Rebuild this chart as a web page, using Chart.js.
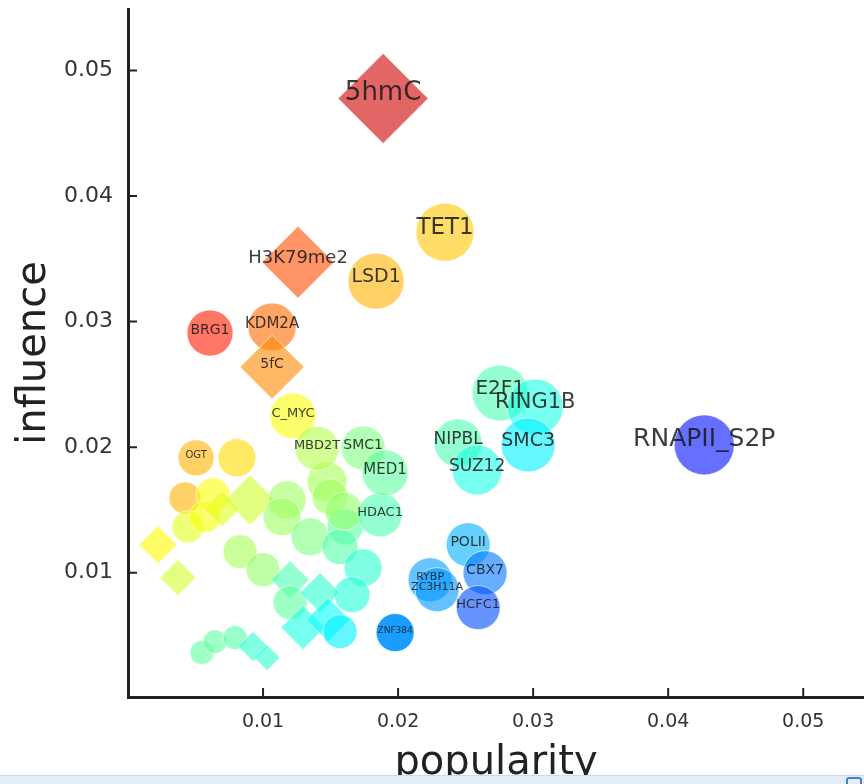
<!DOCTYPE html>
<html>
<head>
<meta charset="utf-8">
<script src="https://cdn.jsdelivr.net/npm/chart.js@4.4.1/dist/chart.umd.min.js"></script>
<style>
    html, body { margin: 0; padding: 0; background: #fff; }
    #wrap { position: relative; width: 864px; height: 784px; overflow: hidden; }
    /* bubble charts reserve the largest radius on every side, so the canvas
       is made a bit larger and shifted to keep the plot at the page edges */
    #scatter { position: absolute; left: 0; top: -37px; }
    #statusBar { position: absolute; left: 0; top: 775px; width: 864px; height: 9px;
                 background: #e4eef9; border-top: 1px solid #c9d9ee; }
    #statusBar span { position: absolute; left: 846px; top: 1px; width: 12px; height: 10px;
                      border: 2px solid #4a7fd0; border-radius: 3px; }
</style>
</head>
<body>
<div id="wrap">
    <canvas id="scatter" width="910" height="821"></canvas>
    <div id="statusBar"><span></span></div>
</div>
<script>
// Factors: name ('' for unlabelled ones), popularity, influence
const names = [
    '', '', '', '', '', '', '', '', '', '',
    '', '', '', '', '', '', '', '', '', '',
    '', '', '', '', '', '', '', '', '', '',
    '', '',
    'OGT', 'C_MYC', 'MBD2T', 'SMC1', 'HDAC1', 'MED1', 'BRG1', 'KDM2A', '5fC',
    'LSD1', 'H3K79me2', 'TET1', '5hmC',
    'NIPBL', 'SUZ12', 'E2F1', 'RING1B', 'SMC3', 'RNAPII_S2P',
    'POLII', 'RYBP', 'ZC3H11A', 'CBX7', 'HCFC1', 'ZNF384'
];
const popularity = [
    0.00807, 0.00422, 0.00630, 0.00444, 0.00570, 0.00904, 0.00222, 0.00370, 0.00696, 0.01178,
    0.01141, 0.01474, 0.01496, 0.01348, 0.00830, 0.01000, 0.01607, 0.01570, 0.01741, 0.01659,
    0.01200, 0.01200, 0.01422, 0.01296, 0.01481, 0.01570, 0.00548, 0.00644, 0.00793, 0.00926,
    0.01030, 0.01600,
    0.00504, 0.01222, 0.01400, 0.01741, 0.01867, 0.01904, 0.00607, 0.01067, 0.01067,
    0.01837, 0.01259, 0.02348, 0.01889,
    0.02444, 0.02585, 0.02756, 0.03015, 0.02963, 0.04267,
    0.02519, 0.02237, 0.02289, 0.02644, 0.02593, 0.01978
];
const influence = [
    0.01915, 0.01596, 0.01620, 0.01366, 0.01446, 0.01580, 0.01223, 0.00960, 0.01510, 0.01580,
    0.01446, 0.01724, 0.01604, 0.01286, 0.01167, 0.01024, 0.01366, 0.01207, 0.01040, 0.00825,
    0.00944, 0.00762, 0.00841, 0.00563, 0.00626, 0.00531, 0.00364, 0.00451, 0.00483, 0.00412,
    0.00324, 0.01490,
    0.01915, 0.02249, 0.01990, 0.01994, 0.01461, 0.01795, 0.02909, 0.02957, 0.02638,
    0.03322, 0.03473, 0.03712, 0.04777,
    0.02034, 0.01819, 0.02431, 0.02320, 0.02018, 0.02018,
    0.01223, 0.00944, 0.00865, 0.01000, 0.00722, 0.00523
];
const tickValues = [0.01, 0.02, 0.03, 0.04, 0.05];

// marker look: 'c' circle, 'd' diamond; size in px; jet colormap position
const shapes = [
    'c', 'c', 'c', 'c', 'c', 'd', 'd', 'd', 'd', 'c',
    'c', 'c', 'c', 'c', 'c', 'c', 'c', 'c', 'c', 'c',
    'd', 'c', 'd', 'd', 'd', 'c', 'c', 'c', 'c', 'd',
    'd', 'c',
    'c', 'c', 'c', 'c', 'c', 'c', 'c', 'c', 'd',
    'c', 'd', 'c', 'd',
    'c', 'c', 'c', 'c', 'c', 'c',
    'c', 'c', 'c', 'c', 'c', 'c'
];
const markerSize = [
    19, 16, 17, 16, 16, 25, 19, 18, 18, 19,
    19, 20, 18, 19, 17, 17, 18, 18, 19, 18,
    19, 17, 20, 22, 22, 17, 12, 12, 12, 15,
    13, 19,
    18, 23, 22, 22, 22, 23, 23, 24, 32,
    28, 36, 29, 45,
    24, 25, 28, 28, 27, 30,
    22, 22, 22, 22, 22, 19
];
const colorPos = [
    0.66, 0.70, 0.62, 0.60, 0.62, 0.58, 0.63, 0.58, 0.60, 0.53,
    0.53, 0.54, 0.53, 0.50, 0.54, 0.52, 0.46, 0.46, 0.42, 0.41,
    0.45, 0.47, 0.42, 0.40, 0.38, 0.36, 0.47, 0.47, 0.46, 0.42,
    0.42, 0.52,
    0.70, 0.62, 0.55, 0.50, 0.45, 0.47, 0.85, 0.77, 0.74,
    0.70, 0.80, 0.68, 0.92,
    0.45, 0.40, 0.45, 0.40, 0.36, 0.14,
    0.30, 0.28, 0.27, 0.24, 0.20, 0.27
];
const labelFont = [
    0, 0, 0, 0, 0, 0, 0, 0, 0, 0,
    0, 0, 0, 0, 0, 0, 0, 0, 0, 0,
    0, 0, 0, 0, 0, 0, 0, 0, 0, 0,
    0, 0,
    10, 13, 13, 14, 13, 15, 14, 15, 14,
    19, 18, 23, 26,
    17, 17, 20, 21, 19, 25,
    14, 11, 11, 14, 13, 9
];

// matplotlib-style jet colormap
function jet(t, a) {
    const c = v => Math.round(255 * Math.max(0, Math.min(1, 1.5 - Math.abs(v))));
    return `rgba(${c(4 * t - 3)},${c(4 * t - 2)},${c(4 * t - 1)},${a})`;
}

const points = popularity.map((x, i) => ({ x: x, y: influence[i], r: markerSize[i] }));
const fills = colorPos.map((t, i) => jet(t, names[i] === 'ZNF384' ? 0.9 : 0.6));

// names on top of the markers
const nameLabels = {
    id: 'nameLabels',
    afterDatasetsDraw(chart) {
        const ctx = chart.ctx;
        const meta = chart.getDatasetMeta(0);
        ctx.save();
        ctx.textAlign = 'center';
        ctx.textBaseline = 'middle';
        ctx.fillStyle = 'rgba(25,25,25,0.85)';
        names.forEach((name, i) => {
            if (!name) return;
            const el = meta.data[i];
            const size = labelFont[i];
            ctx.font = size + 'px "DejaVu Sans", sans-serif';
            ctx.fillText(name, el.x, el.y - 0.2 * size);
        });
        ctx.restore();
    }
};

// short tick marks pointing into the plot
const innerTicks = {
    id: 'innerTicks',
    afterDraw(chart) {
        const ctx = chart.ctx;
        const xs = chart.scales.x, ys = chart.scales.y;
        const area = chart.chartArea;
        ctx.save();
        ctx.strokeStyle = '#222';
        ctx.lineWidth = 2;
        ctx.beginPath();
        tickValues.forEach(v => {
            const px = xs.getPixelForValue(v);
            ctx.moveTo(px, area.bottom);
            ctx.lineTo(px, area.bottom - 9);
            const py = ys.getPixelForValue(v);
            ctx.moveTo(area.left, py);
            ctx.lineTo(area.left + 9, py);
        });
        ctx.stroke();
        ctx.restore();
    }
};

const setTicks = scale => { scale.ticks = tickValues.map(v => ({ value: v })); };

new Chart(document.getElementById('scatter'), {
    type: 'bubble',
    data: {
        datasets: [{
            data: points,
            backgroundColor: fills,
            borderColor: 'rgba(255,255,255,0.6)',
            borderWidth: 1,
            pointStyle: shapes.map(s => s === 'd' ? 'rectRot' : 'circle')
        }]
    },
    options: {
        responsive: false,
        animation: false,
        events: [],
        layout: { padding: { top: 8, left: 0, right: 0, bottom: 0 } },
        plugins: {
            legend: { display: false },
            tooltip: { enabled: false }
        },
        scales: {
            x: {
                type: 'linear',
                min: 0,
                max: 0.0545,
                afterBuildTicks: setTicks,
                afterFit: scale => { scale.height = 87; },
                grid: { display: false, drawTicks: false },
                border: { display: true, color: '#222', width: 3 },
                ticks: {
                    padding: 14,
                    color: '#333',
                    font: { family: '"DejaVu Sans", sans-serif', size: 19 },
                    callback: v => v.toFixed(2)
                },
                title: {
                    display: true,
                    text: 'popularity',
                    color: '#222',
                    font: { family: '"DejaVu Sans", sans-serif', size: 40, lineHeight: 1 },
                    padding: { top: 4, bottom: 0 }
                }
            },
            y: {
                type: 'linear',
                min: 0.0001,
                max: 0.0549,
                afterBuildTicks: setTicks,
                afterFit: scale => { scale.width = 128; },
                grid: { display: false, drawTicks: false },
                border: { display: true, color: '#222', width: 3 },
                ticks: {
                    padding: 15,
                    color: '#333',
                    font: { family: '"DejaVu Sans", sans-serif', size: 22 },
                    callback: v => v.toFixed(2)
                },
                title: {
                    display: true,
                    text: 'influence',
                    color: '#222',
                    font: { family: '"DejaVu Sans", sans-serif', size: 40, lineHeight: 1 },
                    padding: { top: 15, bottom: 0 }
                }
            }
        }
    },
    plugins: [nameLabels, innerTicks]
});
</script>
</body>
</html>
